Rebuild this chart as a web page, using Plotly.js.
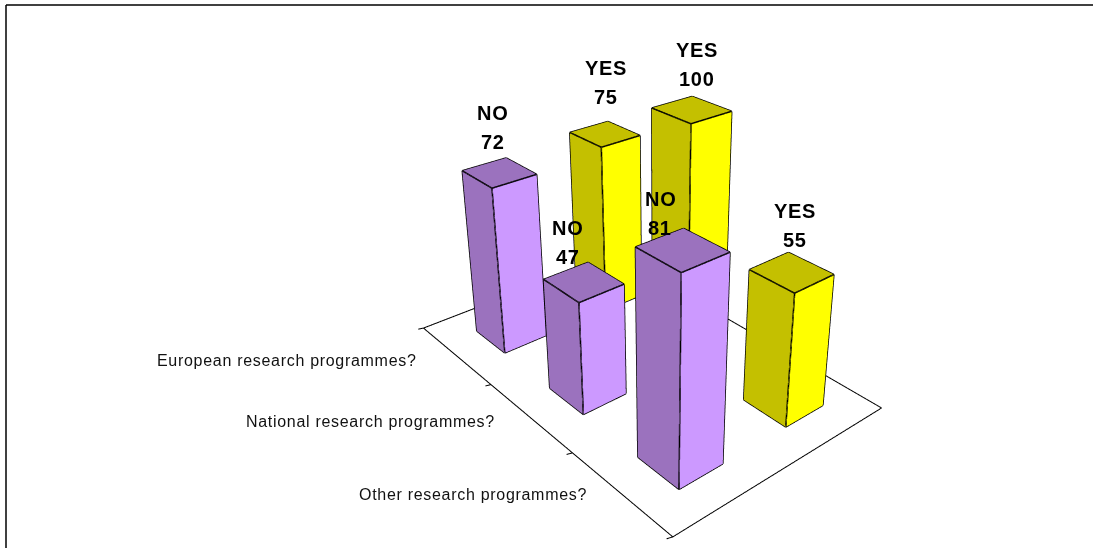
<!DOCTYPE html>
<html><head><meta charset="utf-8">
<script src="https://cdn.plot.ly/plotly-3.0.1.min.js"></script>
<style>
html,body{margin:0;padding:0;background:#fff;width:1093px;height:548px;overflow:hidden}
#wrap{position:absolute;left:0;top:0;width:1093px;height:548px;overflow:hidden}
#chart{position:absolute;left:0;top:-210px;width:1319px;height:842px}
.annotation-text{letter-spacing:.7px}
</style></head><body>
<div id="wrap"><div id="chart"></div></div>
<script>
// Data (index 0 = nearest the viewer)
const categories = ['Other research programmes?','National research programmes?','European research programmes?'];
const seriesNames = ['NO','YES'];
const noValues  = [81,47,72];
const yesValues = [55,100,75];

const W=1319,H=842,TOP=210;
const barLoX=.19,barHiX=.2,barLoY=.215,barHiY=.19;
const colors={NO:{dark:'#9B72BE',light:'#CC99FF'},YES:{dark:'#C4C000',light:'#FFFF00'}};
function px(v){return v/W;} function py(v){return 1-(v+TOP)/H;}

function barTraces(sIdx,vals){
  const name=seriesNames[sIdx],c=colors[name];
  const X=[],Y=[],Z=[],I=[],J=[],K=[],F=[];
  const lx=[],ly=[],lz=[];
  vals.forEach((v,cat)=>{
    const x0=sIdx-barLoX,x1=sIdx+barHiX,y0=cat-barLoY,y1=cat+barHiY,b=X.length;
    [[x0,y0,0],[x1,y0,0],[x1,y1,0],[x0,y1,0],[x0,y0,v],[x1,y0,v],[x1,y1,v],[x0,y1,v]].forEach(p=>{X.push(p[0]);Y.push(p[1]);Z.push(p[2]);});
    const quad=(a,d,e,f,col)=>{I.push(b+a,b+a);J.push(b+d,b+e);K.push(b+e,b+f);F.push(col,col);};
    quad(0,1,5,4,c.light);
    quad(0,4,7,3,c.dark);
    quad(4,5,6,7,c.dark);
    quad(1,2,6,5,c.dark);
    quad(3,7,6,2,c.dark);
    quad(0,3,2,1,c.dark);
    [[0,1],[1,5],[5,4],[4,0],[4,7],[7,3],[3,0],[7,6],[6,5]].forEach(e=>{
      e.forEach(n=>{lx.push(X[b+n]);ly.push(Y[b+n]);lz.push(Z[b+n]);});
      lx.push(null);ly.push(null);lz.push(null);
    });
  });
  return [
   {type:'mesh3d',x:X,y:Y,z:Z,i:I,j:J,k:K,facecolor:F,flatshading:true,hoverinfo:'skip',showscale:false,
    lighting:{ambient:1,diffuse:0,specular:0,roughness:1,fresnel:0},lightposition:{x:0,y:0,z:1000}},
   {type:'scatter3d',mode:'lines',x:lx,y:ly,z:lz,line:{color:'#000',width:3},hoverinfo:'skip',showlegend:false}
  ];
}

const fx=[-.5,1.5,1.5,-.5,-.5],fy=[-.5,-.5,2.5,2.5,-.5],fz=[0,0,0,0,0];
const tx=[],ty=[],tz=[];
[-.5,.5,1.5,2.5].forEach(t=>{tx.push(-.5,-.54,null);ty.push(t,t+.012,null);tz.push(0,0,null);});

const ann=[];
const catShift=[[-31,-2],[-33,-4],[-37,-5]];
categories.forEach((t,i)=>ann.push({x:-.5,y:i,z:0,text:t,showarrow:false,xanchor:'right',yanchor:'middle',
  xshift:catShift[i][0],yshift:catShift[i][1],font:{family:'Liberation Sans',size:16,color:'#111'}}));
const labelShift=[[[-20,0],[-14,3],[-5,9]],[[5,10.5],[7,9.5],[3,16]]];
[noValues,yesValues].forEach((vals,s)=>vals.forEach((v,c)=>{
  const sh=labelShift[s][c];
  [[seriesNames[s],50],[String(v),21]].forEach(l=>ann.push({x:s,y:c,z:v,text:'<b>'+l[0]+'</b>',showarrow:false,
    xanchor:'center',yanchor:'middle',xshift:sh[0],yshift:l[1]+sh[1],font:{family:'Liberation Sans',size:20,color:'#000'}}));
}));

const hidden={showgrid:false,zeroline:false,showticklabels:false,showbackground:false,showspikes:false,showline:false,ticks:'',title:{text:''}};
const traces=[...barTraces(0,noValues),...barTraces(1,yesValues),
 {type:'scatter3d',mode:'lines',x:fx,y:fy,z:fz,line:{color:'#000',width:2},hoverinfo:'skip',showlegend:false},
 {type:'scatter3d',mode:'lines',x:tx,y:ty,z:tz,line:{color:'#000',width:2},hoverinfo:'skip',showlegend:false}];

const layout={width:W,height:H,margin:{l:0,r:0,t:0,b:0},paper_bgcolor:'#fff',showlegend:false,
 shapes:[
  {type:'line',xref:'paper',yref:'paper',x0:px(6),x1:px(1093),y0:py(5),y1:py(5),line:{color:'#000',width:1.5}},
  {type:'line',xref:'paper',yref:'paper',x0:px(6),x1:px(6),y0:py(5),y1:py(548),line:{color:'#000',width:1.5}}
 ],
 scene:{domain:{x:[0,1],y:[0,1]},
  xaxis:{...hidden,range:[-.6,1.6]},yaxis:{...hidden,range:[-.6,2.6]},zaxis:{...hidden,range:[-2,100]},
  aspectmode:'manual',aspectratio:{x:.4939,y:.7456,z:.4519},
  camera:{eye:{x:-.9246,y:-1.1464,z:.783},center:{x:.0097,y:-.0454,z:.093},up:{x:0,y:0,z:1},projection:{type:'perspective'}},
  annotations:ann}
};
Plotly.newPlot('chart',traces,layout,{displayModeBar:false});
</script></body></html>
